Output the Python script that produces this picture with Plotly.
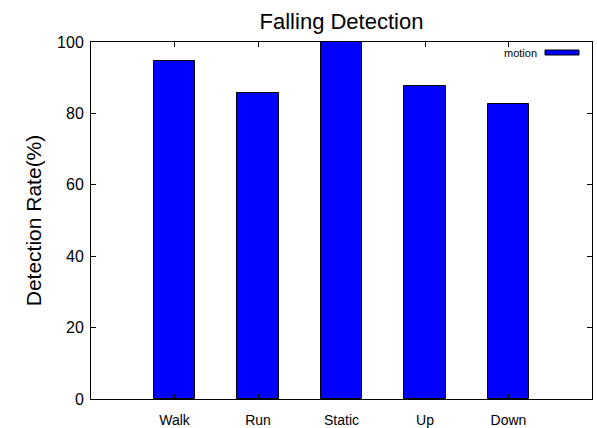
import plotly.graph_objects as go

categories = ["Walk", "Run", "Static", "Up", "Down"]
positions = [1, 2, 3, 4, 5]
motion = [94.7, 85.7, 100.0, 87.6, 82.5]
y_ticks = [0, 20, 40, 60, 80, 100]

FONT = "Liberation Sans, Arial, Helvetica, sans-serif"

fig = go.Figure()
fig.add_trace(go.Bar(
    x=positions, y=motion, width=0.5, name="motion",
    marker=dict(color="#0000ff", line=dict(color="black", width=1)),
    showlegend=False,
))

fig.update_layout(
    width=597, height=428,
    margin=dict(l=91, r=5, t=42, b=29, autoexpand=False),
    paper_bgcolor="white", plot_bgcolor="white",
    font=dict(family=FONT, color="black"),
    title=dict(text="Falling Detection", x=(91 + 592) / 2 / 597, xanchor="center",
               y=1 - 21 / 428, yanchor="middle", yref="container",
               font=dict(size=22, family=FONT, color="black")),
    bargap=0,
)

fig.update_xaxes(
    range=[0, 6], tickvals=positions, ticktext=categories,
    ticks="inside", ticklen=5, tickcolor="black",
    showline=True, linecolor="black", linewidth=1, mirror="ticks",
    showgrid=False, zeroline=False, automargin=False,
    tickfont=dict(size=14, family=FONT, color="black"),
    ticklabelstandoff=8,
)
fig.update_yaxes(
    range=[0, 100], tickvals=y_ticks,
    ticks="inside", ticklen=5, tickcolor="black",
    showline=True, linecolor="black", linewidth=1, mirror="ticks",
    showgrid=False, zeroline=False, automargin=False,
    tickfont=dict(size=16, family=FONT, color="black"),
    ticklabelstandoff=3,
    title=dict(text="Detection Rate(%)", standoff=9,
               font=dict(size=21, family=FONT, color="black")),
)

# legend entry (drawn in paper space, gnuplot style key)
fig.add_annotation(
    text="motion", xref="paper", yref="paper",
    x=(545 - 91 - 6) / (592 - 91), y=(399 - 52.5) / (399 - 42),
    xanchor="right", yanchor="middle", showarrow=False,
    font=dict(size=11, family=FONT, color="black"),
)
fig.add_shape(
    type="rect", xref="paper", yref="paper",
    x0=(545 - 91) / (592 - 91), x1=(579 - 91) / (592 - 91),
    y0=(399 - 55) / (399 - 42), y1=(399 - 50) / (399 - 42),
    fillcolor="#0000ff", line=dict(color="black", width=1),
)

fig.write_html("out.html", config={"displayModeBar": False},
               post_script="document.body.style.margin='0';")
